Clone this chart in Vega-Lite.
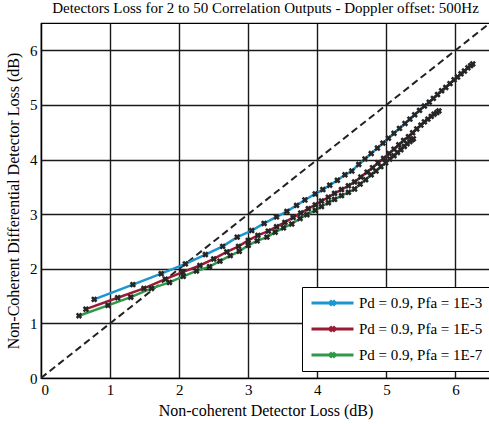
{
  "$schema": "https://vega.github.io/schema/vega-lite/v6.json",
  "width": 449,
  "height": 355,
  "autosize": {"type": "none"},
  "padding": {"left": 41, "top": 23, "right": 0, "bottom": 46},
  "background": "white",
  "config": {
    "font": "Liberation Serif",
    "view": {"stroke": "black", "strokeWidth": 1.2},
    "text": {"font": "Liberation Serif"},
    "axis": {
      "domainColor": "black",
      "domainWidth": 1.2,
      "grid": true,
      "gridColor": "#1a1a1a",
      "gridWidth": 1.4,
      "gridOpacity": 1,
      "ticks": false,
      "labelFont": "Liberation Serif",
      "labelFontSize": 15,
      "labelColor": "black",
      "titleFont": "Liberation Serif",
      "titleFontSize": 16,
      "titleFontWeight": "normal",
      "titleColor": "black"
    },
    "legend": {"labelFont": "Liberation Serif"}
  },
  "title": {
    "text": "Detectors Loss for 2 to 50 Correlation Outputs - Doppler offset: 500Hz",
    "font": "Liberation Serif",
    "fontSize": 15,
    "fontWeight": "normal",
    "color": "black",
    "offset": 7
  },
  "datasets": {
    "curves": [
      {"series": "Pd = 0.9, Pfa = 1E-3", "loss": 0.77, "diffLoss": 1.44},
      {"series": "Pd = 0.9, Pfa = 1E-3", "loss": 1.33, "diffLoss": 1.71},
      {"series": "Pd = 0.9, Pfa = 1E-3", "loss": 1.74, "diffLoss": 1.91},
      {"series": "Pd = 0.9, Pfa = 1E-3", "loss": 2.09, "diffLoss": 2.09},
      {"series": "Pd = 0.9, Pfa = 1E-3", "loss": 2.38, "diffLoss": 2.26},
      {"series": "Pd = 0.9, Pfa = 1E-3", "loss": 2.63, "diffLoss": 2.41},
      {"series": "Pd = 0.9, Pfa = 1E-3", "loss": 2.84, "diffLoss": 2.58},
      {"series": "Pd = 0.9, Pfa = 1E-3", "loss": 3.05, "diffLoss": 2.70},
      {"series": "Pd = 0.9, Pfa = 1E-3", "loss": 3.23, "diffLoss": 2.83},
      {"series": "Pd = 0.9, Pfa = 1E-3", "loss": 3.41, "diffLoss": 2.95},
      {"series": "Pd = 0.9, Pfa = 1E-3", "loss": 3.56, "diffLoss": 3.05},
      {"series": "Pd = 0.9, Pfa = 1E-3", "loss": 3.70, "diffLoss": 3.16},
      {"series": "Pd = 0.9, Pfa = 1E-3", "loss": 3.82, "diffLoss": 3.26},
      {"series": "Pd = 0.9, Pfa = 1E-3", "loss": 3.97, "diffLoss": 3.37},
      {"series": "Pd = 0.9, Pfa = 1E-3", "loss": 4.08, "diffLoss": 3.45},
      {"series": "Pd = 0.9, Pfa = 1E-3", "loss": 4.18, "diffLoss": 3.53},
      {"series": "Pd = 0.9, Pfa = 1E-3", "loss": 4.29, "diffLoss": 3.62},
      {"series": "Pd = 0.9, Pfa = 1E-3", "loss": 4.40, "diffLoss": 3.72},
      {"series": "Pd = 0.9, Pfa = 1E-3", "loss": 4.50, "diffLoss": 3.79},
      {"series": "Pd = 0.9, Pfa = 1E-3", "loss": 4.60, "diffLoss": 3.91},
      {"series": "Pd = 0.9, Pfa = 1E-3", "loss": 4.69, "diffLoss": 4.01},
      {"series": "Pd = 0.9, Pfa = 1E-3", "loss": 4.78, "diffLoss": 4.11},
      {"series": "Pd = 0.9, Pfa = 1E-3", "loss": 4.87, "diffLoss": 4.21},
      {"series": "Pd = 0.9, Pfa = 1E-3", "loss": 4.95, "diffLoss": 4.30},
      {"series": "Pd = 0.9, Pfa = 1E-3", "loss": 5.03, "diffLoss": 4.39},
      {"series": "Pd = 0.9, Pfa = 1E-3", "loss": 5.11, "diffLoss": 4.48},
      {"series": "Pd = 0.9, Pfa = 1E-3", "loss": 5.19, "diffLoss": 4.57},
      {"series": "Pd = 0.9, Pfa = 1E-3", "loss": 5.27, "diffLoss": 4.66},
      {"series": "Pd = 0.9, Pfa = 1E-3", "loss": 5.34, "diffLoss": 4.74},
      {"series": "Pd = 0.9, Pfa = 1E-3", "loss": 5.41, "diffLoss": 4.82},
      {"series": "Pd = 0.9, Pfa = 1E-3", "loss": 5.48, "diffLoss": 4.90},
      {"series": "Pd = 0.9, Pfa = 1E-3", "loss": 5.55, "diffLoss": 4.98},
      {"series": "Pd = 0.9, Pfa = 1E-3", "loss": 5.62, "diffLoss": 5.05},
      {"series": "Pd = 0.9, Pfa = 1E-3", "loss": 5.68, "diffLoss": 5.12},
      {"series": "Pd = 0.9, Pfa = 1E-3", "loss": 5.74, "diffLoss": 5.19},
      {"series": "Pd = 0.9, Pfa = 1E-3", "loss": 5.80, "diffLoss": 5.26},
      {"series": "Pd = 0.9, Pfa = 1E-3", "loss": 5.86, "diffLoss": 5.32},
      {"series": "Pd = 0.9, Pfa = 1E-3", "loss": 5.92, "diffLoss": 5.39},
      {"series": "Pd = 0.9, Pfa = 1E-3", "loss": 5.98, "diffLoss": 5.46},
      {"series": "Pd = 0.9, Pfa = 1E-3", "loss": 6.03, "diffLoss": 5.51},
      {"series": "Pd = 0.9, Pfa = 1E-3", "loss": 6.08, "diffLoss": 5.57},
      {"series": "Pd = 0.9, Pfa = 1E-3", "loss": 6.13, "diffLoss": 5.62},
      {"series": "Pd = 0.9, Pfa = 1E-3", "loss": 6.18, "diffLoss": 5.68},
      {"series": "Pd = 0.9, Pfa = 1E-3", "loss": 6.22, "diffLoss": 5.72},
      {"series": "Pd = 0.9, Pfa = 1E-3", "loss": 6.25, "diffLoss": 5.75},
      {"series": "Pd = 0.9, Pfa = 1E-5", "loss": 0.65, "diffLoss": 1.26},
      {"series": "Pd = 0.9, Pfa = 1E-5", "loss": 1.11, "diffLoss": 1.47},
      {"series": "Pd = 0.9, Pfa = 1E-5", "loss": 1.49, "diffLoss": 1.64},
      {"series": "Pd = 0.9, Pfa = 1E-5", "loss": 1.80, "diffLoss": 1.81},
      {"series": "Pd = 0.9, Pfa = 1E-5", "loss": 2.05, "diffLoss": 1.94},
      {"series": "Pd = 0.9, Pfa = 1E-5", "loss": 2.30, "diffLoss": 2.06},
      {"series": "Pd = 0.9, Pfa = 1E-5", "loss": 2.50, "diffLoss": 2.18},
      {"series": "Pd = 0.9, Pfa = 1E-5", "loss": 2.69, "diffLoss": 2.31},
      {"series": "Pd = 0.9, Pfa = 1E-5", "loss": 2.86, "diffLoss": 2.41},
      {"series": "Pd = 0.9, Pfa = 1E-5", "loss": 3.00, "diffLoss": 2.52},
      {"series": "Pd = 0.9, Pfa = 1E-5", "loss": 3.14, "diffLoss": 2.61},
      {"series": "Pd = 0.9, Pfa = 1E-5", "loss": 3.29, "diffLoss": 2.69},
      {"series": "Pd = 0.9, Pfa = 1E-5", "loss": 3.41, "diffLoss": 2.77},
      {"series": "Pd = 0.9, Pfa = 1E-5", "loss": 3.53, "diffLoss": 2.85},
      {"series": "Pd = 0.9, Pfa = 1E-5", "loss": 3.65, "diffLoss": 2.94},
      {"series": "Pd = 0.9, Pfa = 1E-5", "loss": 3.76, "diffLoss": 3.02},
      {"series": "Pd = 0.9, Pfa = 1E-5", "loss": 3.87, "diffLoss": 3.10},
      {"series": "Pd = 0.9, Pfa = 1E-5", "loss": 3.97, "diffLoss": 3.17},
      {"series": "Pd = 0.9, Pfa = 1E-5", "loss": 4.06, "diffLoss": 3.24},
      {"series": "Pd = 0.9, Pfa = 1E-5", "loss": 4.16, "diffLoss": 3.31},
      {"series": "Pd = 0.9, Pfa = 1E-5", "loss": 4.25, "diffLoss": 3.38},
      {"series": "Pd = 0.9, Pfa = 1E-5", "loss": 4.35, "diffLoss": 3.45},
      {"series": "Pd = 0.9, Pfa = 1E-5", "loss": 4.45, "diffLoss": 3.52},
      {"series": "Pd = 0.9, Pfa = 1E-5", "loss": 4.54, "diffLoss": 3.59},
      {"series": "Pd = 0.9, Pfa = 1E-5", "loss": 4.63, "diffLoss": 3.68},
      {"series": "Pd = 0.9, Pfa = 1E-5", "loss": 4.72, "diffLoss": 3.77},
      {"series": "Pd = 0.9, Pfa = 1E-5", "loss": 4.80, "diffLoss": 3.85},
      {"series": "Pd = 0.9, Pfa = 1E-5", "loss": 4.88, "diffLoss": 3.94},
      {"series": "Pd = 0.9, Pfa = 1E-5", "loss": 4.96, "diffLoss": 4.02},
      {"series": "Pd = 0.9, Pfa = 1E-5", "loss": 5.04, "diffLoss": 4.11},
      {"series": "Pd = 0.9, Pfa = 1E-5", "loss": 5.11, "diffLoss": 4.19},
      {"series": "Pd = 0.9, Pfa = 1E-5", "loss": 5.18, "diffLoss": 4.27},
      {"series": "Pd = 0.9, Pfa = 1E-5", "loss": 5.25, "diffLoss": 4.35},
      {"series": "Pd = 0.9, Pfa = 1E-5", "loss": 5.32, "diffLoss": 4.42},
      {"series": "Pd = 0.9, Pfa = 1E-5", "loss": 5.38, "diffLoss": 4.49},
      {"series": "Pd = 0.9, Pfa = 1E-5", "loss": 5.44, "diffLoss": 4.56},
      {"series": "Pd = 0.9, Pfa = 1E-5", "loss": 5.50, "diffLoss": 4.63},
      {"series": "Pd = 0.9, Pfa = 1E-5", "loss": 5.55, "diffLoss": 4.69},
      {"series": "Pd = 0.9, Pfa = 1E-5", "loss": 5.60, "diffLoss": 4.74},
      {"series": "Pd = 0.9, Pfa = 1E-5", "loss": 5.65, "diffLoss": 4.79},
      {"series": "Pd = 0.9, Pfa = 1E-5", "loss": 5.69, "diffLoss": 4.83},
      {"series": "Pd = 0.9, Pfa = 1E-5", "loss": 5.73, "diffLoss": 4.86},
      {"series": "Pd = 0.9, Pfa = 1E-5", "loss": 5.76, "diffLoss": 4.89},
      {"series": "Pd = 0.9, Pfa = 1E-7", "loss": 0.55, "diffLoss": 1.14},
      {"series": "Pd = 0.9, Pfa = 1E-7", "loss": 0.97, "diffLoss": 1.33},
      {"series": "Pd = 0.9, Pfa = 1E-7", "loss": 1.30, "diffLoss": 1.48},
      {"series": "Pd = 0.9, Pfa = 1E-7", "loss": 1.60, "diffLoss": 1.64},
      {"series": "Pd = 0.9, Pfa = 1E-7", "loss": 1.86, "diffLoss": 1.75},
      {"series": "Pd = 0.9, Pfa = 1E-7", "loss": 2.06, "diffLoss": 1.86},
      {"series": "Pd = 0.9, Pfa = 1E-7", "loss": 2.25, "diffLoss": 1.96},
      {"series": "Pd = 0.9, Pfa = 1E-7", "loss": 2.44, "diffLoss": 2.04},
      {"series": "Pd = 0.9, Pfa = 1E-7", "loss": 2.59, "diffLoss": 2.14},
      {"series": "Pd = 0.9, Pfa = 1E-7", "loss": 2.74, "diffLoss": 2.24},
      {"series": "Pd = 0.9, Pfa = 1E-7", "loss": 2.87, "diffLoss": 2.32},
      {"series": "Pd = 0.9, Pfa = 1E-7", "loss": 3.00, "diffLoss": 2.43},
      {"series": "Pd = 0.9, Pfa = 1E-7", "loss": 3.13, "diffLoss": 2.51},
      {"series": "Pd = 0.9, Pfa = 1E-7", "loss": 3.27, "diffLoss": 2.58},
      {"series": "Pd = 0.9, Pfa = 1E-7", "loss": 3.39, "diffLoss": 2.67},
      {"series": "Pd = 0.9, Pfa = 1E-7", "loss": 3.51, "diffLoss": 2.75},
      {"series": "Pd = 0.9, Pfa = 1E-7", "loss": 3.63, "diffLoss": 2.82},
      {"series": "Pd = 0.9, Pfa = 1E-7", "loss": 3.75, "diffLoss": 2.92},
      {"series": "Pd = 0.9, Pfa = 1E-7", "loss": 3.85, "diffLoss": 2.99},
      {"series": "Pd = 0.9, Pfa = 1E-7", "loss": 3.97, "diffLoss": 3.07},
      {"series": "Pd = 0.9, Pfa = 1E-7", "loss": 4.06, "diffLoss": 3.14},
      {"series": "Pd = 0.9, Pfa = 1E-7", "loss": 4.16, "diffLoss": 3.21},
      {"series": "Pd = 0.9, Pfa = 1E-7", "loss": 4.25, "diffLoss": 3.27},
      {"series": "Pd = 0.9, Pfa = 1E-7", "loss": 4.35, "diffLoss": 3.34},
      {"series": "Pd = 0.9, Pfa = 1E-7", "loss": 4.45, "diffLoss": 3.40},
      {"series": "Pd = 0.9, Pfa = 1E-7", "loss": 4.54, "diffLoss": 3.46},
      {"series": "Pd = 0.9, Pfa = 1E-7", "loss": 4.62, "diffLoss": 3.55},
      {"series": "Pd = 0.9, Pfa = 1E-7", "loss": 4.70, "diffLoss": 3.63},
      {"series": "Pd = 0.9, Pfa = 1E-7", "loss": 4.78, "diffLoss": 3.72},
      {"series": "Pd = 0.9, Pfa = 1E-7", "loss": 4.85, "diffLoss": 3.79},
      {"series": "Pd = 0.9, Pfa = 1E-7", "loss": 4.92, "diffLoss": 3.87},
      {"series": "Pd = 0.9, Pfa = 1E-7", "loss": 4.99, "diffLoss": 3.94},
      {"series": "Pd = 0.9, Pfa = 1E-7", "loss": 5.05, "diffLoss": 4.01},
      {"series": "Pd = 0.9, Pfa = 1E-7", "loss": 5.11, "diffLoss": 4.07},
      {"series": "Pd = 0.9, Pfa = 1E-7", "loss": 5.16, "diffLoss": 4.13},
      {"series": "Pd = 0.9, Pfa = 1E-7", "loss": 5.21, "diffLoss": 4.18},
      {"series": "Pd = 0.9, Pfa = 1E-7", "loss": 5.26, "diffLoss": 4.24},
      {"series": "Pd = 0.9, Pfa = 1E-7", "loss": 5.30, "diffLoss": 4.29},
      {"series": "Pd = 0.9, Pfa = 1E-7", "loss": 5.34, "diffLoss": 4.33},
      {"series": "Pd = 0.9, Pfa = 1E-7", "loss": 5.37, "diffLoss": 4.36},
      {"series": "Pd = 0.9, Pfa = 1E-7", "loss": 5.39, "diffLoss": 4.38}
    ],
    "reference": [
      {"loss": 0, "diffLoss": 0},
      {"loss": 6.5, "diffLoss": 6.5}
    ]
  },
  "encoding": {
    "x": {
      "field": "loss",
      "type": "quantitative",
      "scale": {"domain": [0, 6.5], "nice": false, "zero": false},
      "axis": {
        "values": [0, 1, 2, 3, 4, 5, 6],
        "title": "Non-coherent Detector Loss (dB)",
        "labelFont": "Liberation Serif",
        "titleFont": "Liberation Serif",
        "labelPadding": 4,
        "titlePadding": 5
      }
    },
    "y": {
      "field": "diffLoss",
      "type": "quantitative",
      "scale": {"domain": [0, 6.5], "nice": false, "zero": false},
      "axis": {
        "values": [0, 1, 2, 3, 4, 5, 6],
        "title": "Non-Coherent Differential Detector Loss (dB)",
        "labelFont": "Liberation Serif",
        "titleFont": "Liberation Serif",
        "labelPadding": 4,
        "titlePadding": 8
      }
    }
  },
  "layer": [
    {
      "data": {"name": "reference"},
      "mark": {"type": "line", "color": "#222222", "strokeWidth": 2, "strokeDash": [7, 4], "clip": true},
      "encoding": {}
    },
    {
      "data": {"name": "curves"},
      "mark": {"type": "line", "strokeWidth": 2.5, "clip": true},
      "encoding": {
        "color": {
          "field": "series",
          "type": "nominal",
          "scale": {
            "domain": ["Pd = 0.9, Pfa = 1E-3", "Pd = 0.9, Pfa = 1E-5", "Pd = 0.9, Pfa = 1E-7"],
            "range": ["#1b96cf", "#9b1b36", "#2e9a48"]
          },
          "legend": {
            "orient": "none",
            "legendX": 261,
            "legendY": 264,
            "title": null,
            "fillColor": "white",
            "strokeColor": "black",
            "cornerRadius": 0,
            "padding": 8,
            "symbolType": "M-1,0H1M-0.12,-0.12L0.12,0.12M-0.12,0.12L0.12,-0.12",
            "symbolSize": 1764,
            "symbolStrokeWidth": 3,
            "clipHeight": 16,
            "rowPadding": 10,
            "labelFont": "Liberation Serif",
            "labelFontSize": 15,
            "labelColor": "black",
            "labelOffset": 4
          }
        }
      }
    },
    {
      "data": {"name": "curves"},
      "mark": {"type": "point", "shape": "cross", "angle": 45, "size": 42, "filled": true, "color": "#262626", "opacity": 1, "clip": true}
    }
  ]
}
